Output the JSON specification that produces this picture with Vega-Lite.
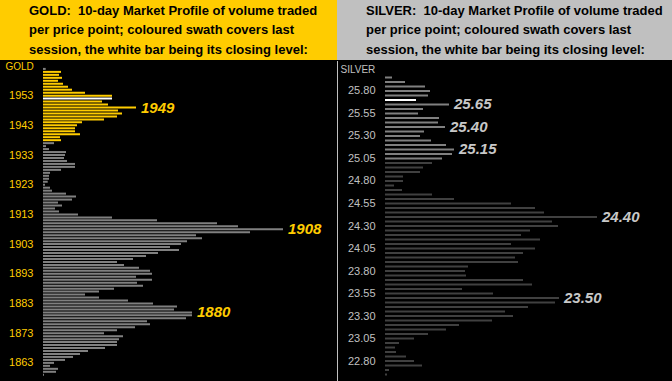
{
  "$schema": "https://vega.github.io/schema/vega-lite/v6.json",
  "background": "#000000",
  "padding": 0,
  "spacing": 0,
  "resolve": {"scale": {"color": "independent", "x": "independent", "y": "independent"}},
  "config": {
    "view": {"stroke": null},
    "concat": {"spacing": 0},
    "font": "Liberation Sans"
  },
  "hconcat": [
    {
      "spacing": 0,
      "resolve": {"scale": {"color": "independent", "x": "independent", "y": "independent"}},
      "vconcat": [
        {
          "width": 337,
          "height": 60,
          "view": {"fill": "#ffcc00", "stroke": null},
          "data": {"values": [
            {"line": 0, "t": "GOLD:\u00a0 10-day Market Profile of volume traded"},
            {"line": 1, "t": "per price point; coloured swath covers last"},
            {"line": 2, "t": "session, the white bar being its closing level:"}
          ]},
          "mark": {"type": "text", "align": "left", "baseline": "alphabetic", "font": "Liberation Sans", "fontWeight": "bold", "fontSize": 13, "color": "#000000"},
          "encoding": {
            "x": {"datum": 0, "type": "quantitative", "scale": {"domain": [-29, 308], "nice": false, "zero": false}, "axis": null},
            "y": {"field": "line", "type": "quantitative", "scale": {"domain": [-0.769, 2.308], "nice": false, "zero": false, "reverse": true}, "axis": null},
            "text": {"field": "t"}
          }
        },
        {
          "width": 337,
          "height": 321,
          "data": {"values": [
            {"year": 1962, "vol": 2.7, "session": "prior"},
            {"year": 1961, "vol": 18, "session": "last"},
            {"year": 1960, "vol": 16, "session": "last"},
            {"year": 1959, "vol": 19, "session": "last"},
            {"year": 1958, "vol": 15, "session": "last"},
            {"year": 1957, "vol": 20, "session": "last"},
            {"year": 1956, "vol": 25, "session": "last"},
            {"year": 1955, "vol": 29, "session": "last"},
            {"year": 1954, "vol": 42, "session": "last"},
            {"year": 1953, "vol": 69, "session": "last"},
            {"year": 1952, "vol": 69, "session": "close"},
            {"year": 1951, "vol": 59, "session": "last"},
            {"year": 1950, "vol": 65, "session": "last"},
            {"year": 1949, "vol": 93, "session": "last", "label": "1949"},
            {"year": 1948, "vol": 75, "session": "last"},
            {"year": 1947, "vol": 79, "session": "last"},
            {"year": 1946, "vol": 74, "session": "last"},
            {"year": 1945, "vol": 61, "session": "last"},
            {"year": 1944, "vol": 39, "session": "last"},
            {"year": 1943, "vol": 34, "session": "last"},
            {"year": 1942, "vol": 32, "session": "last"},
            {"year": 1941, "vol": 32, "session": "last"},
            {"year": 1940, "vol": 37, "session": "last"},
            {"year": 1939, "vol": 17, "session": "last"},
            {"year": 1938, "vol": 18, "session": "last"},
            {"year": 1937, "vol": 11, "session": "prior"},
            {"year": 1936, "vol": 3, "session": "prior"},
            {"year": 1935, "vol": 6, "session": "prior"},
            {"year": 1934, "vol": 23, "session": "prior"},
            {"year": 1933, "vol": 22, "session": "prior"},
            {"year": 1932, "vol": 21, "session": "prior"},
            {"year": 1931, "vol": 24, "session": "prior"},
            {"year": 1930, "vol": 32, "session": "prior"},
            {"year": 1929, "vol": 32, "session": "prior"},
            {"year": 1928, "vol": 18, "session": "prior"},
            {"year": 1927, "vol": 7, "session": "prior"},
            {"year": 1926, "vol": 6, "session": "prior"},
            {"year": 1925, "vol": 6, "session": "prior"},
            {"year": 1924, "vol": 4.7, "session": "prior"},
            {"year": 1923, "vol": 2, "session": "prior"},
            {"year": 1922, "vol": 7, "session": "prior"},
            {"year": 1921, "vol": 9, "session": "prior"},
            {"year": 1920, "vol": 23, "session": "prior"},
            {"year": 1919, "vol": 33, "session": "prior"},
            {"year": 1918, "vol": 29, "session": "prior"},
            {"year": 1917, "vol": 15, "session": "prior"},
            {"year": 1916, "vol": 19, "session": "prior"},
            {"year": 1915, "vol": 12, "session": "prior"},
            {"year": 1914, "vol": 16, "session": "prior"},
            {"year": 1913, "vol": 35, "session": "prior"},
            {"year": 1912, "vol": 69, "session": "prior"},
            {"year": 1911, "vol": 114, "session": "prior"},
            {"year": 1910, "vol": 174, "session": "prior"},
            {"year": 1909, "vol": 195, "session": "prior"},
            {"year": 1908, "vol": 240, "session": "prior", "label": "1908"},
            {"year": 1907, "vol": 207, "session": "prior"},
            {"year": 1906, "vol": 153, "session": "prior"},
            {"year": 1905, "vol": 159, "session": "prior"},
            {"year": 1904, "vol": 144, "session": "prior"},
            {"year": 1903, "vol": 138, "session": "prior"},
            {"year": 1902, "vol": 127, "session": "prior"},
            {"year": 1901, "vol": 136, "session": "prior"},
            {"year": 1900, "vol": 115, "session": "prior"},
            {"year": 1899, "vol": 103, "session": "prior"},
            {"year": 1898, "vol": 90, "session": "prior"},
            {"year": 1897, "vol": 74, "session": "prior"},
            {"year": 1896, "vol": 81, "session": "prior"},
            {"year": 1895, "vol": 96, "session": "prior"},
            {"year": 1894, "vol": 107, "session": "prior"},
            {"year": 1893, "vol": 109, "session": "prior"},
            {"year": 1892, "vol": 93, "session": "prior"},
            {"year": 1891, "vol": 109, "session": "prior"},
            {"year": 1890, "vol": 94, "session": "prior"},
            {"year": 1889, "vol": 100, "session": "prior"},
            {"year": 1888, "vol": 71, "session": "prior"},
            {"year": 1887, "vol": 56, "session": "prior"},
            {"year": 1886, "vol": 42, "session": "prior"},
            {"year": 1885, "vol": 56, "session": "prior"},
            {"year": 1884, "vol": 85, "session": "prior"},
            {"year": 1883, "vol": 110, "session": "prior"},
            {"year": 1882, "vol": 134, "session": "prior"},
            {"year": 1881, "vol": 131, "session": "prior"},
            {"year": 1880, "vol": 149, "session": "prior", "label": "1880"},
            {"year": 1879, "vol": 149, "session": "prior"},
            {"year": 1878, "vol": 143, "session": "prior"},
            {"year": 1877, "vol": 104, "session": "prior"},
            {"year": 1876, "vol": 107, "session": "prior"},
            {"year": 1875, "vol": 92, "session": "prior"},
            {"year": 1874, "vol": 74, "session": "prior"},
            {"year": 1873, "vol": 61, "session": "prior"},
            {"year": 1872, "vol": 80, "session": "prior"},
            {"year": 1871, "vol": 76, "session": "prior"},
            {"year": 1870, "vol": 74, "session": "prior"},
            {"year": 1869, "vol": 74, "session": "prior"},
            {"year": 1868, "vol": 62, "session": "prior"},
            {"year": 1867, "vol": 45, "session": "prior"},
            {"year": 1866, "vol": 37, "session": "prior"},
            {"year": 1865, "vol": 30, "session": "prior"},
            {"year": 1864, "vol": 22, "session": "prior"},
            {"year": 1863, "vol": 11, "session": "prior"},
            {"year": 1862, "vol": 7, "session": "prior"},
            {"year": 1861, "vol": 15, "session": "prior"},
            {"year": 1860, "vol": 13, "session": "prior"},
            {"year": 1859, "vol": 1, "session": "prior"}
          ]},
          "encoding": {
            "y": {
              "field": "year", "type": "quantitative",
              "scale": {"domain": [1856.9, 1965.0], "nice": false, "zero": false, "padding": 0},
              "axis": {
                "values": [1863, 1873, 1883, 1893, 1903, 1913, 1923, 1933, 1943, 1953],
                "format": "d",
                "offset": -43, "domain": false, "ticks": false, "grid": false,
                "labelPadding": 10, "labelColor": "#ffcc00", "labelFont": "Liberation Sans", "labelFontSize": 11,
                "title": "GOLD", "titleAngle": 0, "titleAlign": "left", "titleBaseline": "middle",
                "titleX": -38, "titleY": 6, "titleColor": "#ffcc00", "titleFont": "Liberation Sans",
                "titleFontSize": 10, "titleFontWeight": "normal"
              }
            },
            "x": {"field": "vol", "type": "quantitative", "stack": null, "scale": {"domain": [-43, 294], "nice": false, "zero": false, "padding": 0}, "axis": null}
          },
          "layer": [
            {
              "mark": {"type": "bar", "orient": "horizontal", "size": 2},
              "encoding": {
                "color": {"field": "session", "type": "nominal", "scale": {"domain": ["prior", "last", "close"], "range": ["#808080", "#ffcc00", "#ffffff"]}, "legend": null}
              }
            },
            {
              "transform": [{"filter": "isValid(datum.label)"}],
              "mark": {"type": "text", "align": "left", "baseline": "middle", "dx": 5, "font": "Liberation Sans", "fontStyle": "italic", "fontWeight": "bold", "fontSize": 15, "color": "#ffcc00"},
              "encoding": {"text": {"field": "label"}}
            }
          ]
        }
      ]
    },
    {
      "spacing": 0,
      "resolve": {"scale": {"color": "independent", "x": "independent", "y": "independent"}},
      "vconcat": [
        {
          "width": 335,
          "height": 60,
          "view": {"fill": "#c0c0c0", "stroke": null},
          "data": {"values": [
            {"line": 0, "t": "SILVER:\u00a0 10-day Market Profile of volume traded"},
            {"line": 1, "t": "per price point; coloured swath covers last"},
            {"line": 2, "t": "session, the white bar being its closing level:"}
          ]},
          "mark": {"type": "text", "align": "left", "baseline": "alphabetic", "font": "Liberation Sans", "fontWeight": "bold", "fontSize": 13, "color": "#000000"},
          "encoding": {
            "x": {"datum": 0, "type": "quantitative", "scale": {"domain": [-29, 306], "nice": false, "zero": false}, "axis": null},
            "y": {"field": "line", "type": "quantitative", "scale": {"domain": [-0.769, 2.308], "nice": false, "zero": false, "reverse": true}, "axis": null},
            "text": {"field": "t"}
          }
        },
        {
          "width": 335,
          "height": 321,
          "data": {"values": [
            {"price": 25.95, "vol": 7, "session": "last"},
            {"price": 25.90, "vol": 20, "session": "last"},
            {"price": 25.85, "vol": 40, "session": "last"},
            {"price": 25.80, "vol": 45, "session": "last"},
            {"price": 25.75, "vol": 43, "session": "last"},
            {"price": 25.70, "vol": 31, "session": "close"},
            {"price": 25.65, "vol": 64, "session": "last", "label": "25.65"},
            {"price": 25.60, "vol": 38, "session": "last"},
            {"price": 25.55, "vol": 33, "session": "last"},
            {"price": 25.50, "vol": 54, "session": "last"},
            {"price": 25.45, "vol": 53, "session": "last"},
            {"price": 25.40, "vol": 60, "session": "last", "label": "25.40"},
            {"price": 25.35, "vol": 39, "session": "last"},
            {"price": 25.30, "vol": 35, "session": "last"},
            {"price": 25.25, "vol": 46, "session": "last"},
            {"price": 25.20, "vol": 61, "session": "last"},
            {"price": 25.15, "vol": 69, "session": "last", "label": "25.15"},
            {"price": 25.10, "vol": 67, "session": "last"},
            {"price": 25.05, "vol": 57, "session": "last"},
            {"price": 25.00, "vol": 47, "session": "prior"},
            {"price": 24.95, "vol": 38, "session": "prior"},
            {"price": 24.90, "vol": 35, "session": "prior"},
            {"price": 24.85, "vol": 18, "session": "prior"},
            {"price": 24.80, "vol": 18, "session": "prior"},
            {"price": 24.75, "vol": 9, "session": "prior"},
            {"price": 24.70, "vol": 17, "session": "prior"},
            {"price": 24.65, "vol": 47, "session": "prior"},
            {"price": 24.60, "vol": 69, "session": "prior"},
            {"price": 24.55, "vol": 126, "session": "prior"},
            {"price": 24.50, "vol": 150, "session": "prior"},
            {"price": 24.45, "vol": 159, "session": "prior"},
            {"price": 24.40, "vol": 212, "session": "prior", "label": "24.40"},
            {"price": 24.35, "vol": 167, "session": "prior"},
            {"price": 24.30, "vol": 173, "session": "prior"},
            {"price": 24.25, "vol": 145, "session": "prior"},
            {"price": 24.20, "vol": 136, "session": "prior"},
            {"price": 24.15, "vol": 155, "session": "prior"},
            {"price": 24.10, "vol": 126, "session": "prior"},
            {"price": 24.05, "vol": 150, "session": "prior"},
            {"price": 24.00, "vol": 138, "session": "prior"},
            {"price": 23.95, "vol": 130, "session": "prior"},
            {"price": 23.90, "vol": 133, "session": "prior"},
            {"price": 23.85, "vol": 83, "session": "prior"},
            {"price": 23.80, "vol": 80, "session": "prior"},
            {"price": 23.75, "vol": 81, "session": "prior"},
            {"price": 23.70, "vol": 138, "session": "prior"},
            {"price": 23.65, "vol": 147, "session": "prior"},
            {"price": 23.60, "vol": 77, "session": "prior"},
            {"price": 23.55, "vol": 108, "session": "prior"},
            {"price": 23.50, "vol": 174, "session": "prior", "label": "23.50"},
            {"price": 23.45, "vol": 170, "session": "prior"},
            {"price": 23.40, "vol": 143, "session": "prior"},
            {"price": 23.35, "vol": 120, "session": "prior"},
            {"price": 23.30, "vol": 128, "session": "prior"},
            {"price": 23.25, "vol": 107, "session": "prior"},
            {"price": 23.20, "vol": 74, "session": "prior"},
            {"price": 23.15, "vol": 61, "session": "prior"},
            {"price": 23.10, "vol": 43, "session": "prior"},
            {"price": 23.05, "vol": 29, "session": "prior"},
            {"price": 23.00, "vol": 14, "session": "prior"},
            {"price": 22.95, "vol": 10, "session": "prior"},
            {"price": 22.90, "vol": 11, "session": "prior"},
            {"price": 22.85, "vol": 21, "session": "prior"},
            {"price": 22.80, "vol": 29, "session": "prior"},
            {"price": 22.75, "vol": 37, "session": "prior"},
            {"price": 22.70, "vol": 4, "session": "prior"},
            {"price": 22.65, "vol": 2, "session": "prior"}
          ]},
          "encoding": {
            "y": {
              "field": "price", "type": "quantitative",
              "scale": {"domain": [22.5667, 26.1333], "nice": false, "zero": false, "padding": 0},
              "axis": {
                "values": [22.80, 23.05, 23.30, 23.55, 23.80, 24.05, 24.30, 24.55, 24.80, 25.05, 25.30, 25.55, 25.80],
                "format": ".2f",
                "offset": -48, "domain": false, "ticks": false, "grid": false,
                "labelPadding": 10, "labelColor": "#c0c0c0", "labelFont": "Liberation Sans", "labelFontSize": 11,
                "title": "SILVER", "titleAngle": 0, "titleAlign": "left", "titleBaseline": "middle",
                "titleX": -45, "titleY": 8, "titleColor": "#c0c0c0", "titleFont": "Liberation Sans",
                "titleFontSize": 10, "titleFontWeight": "normal"
              }
            },
            "x": {"field": "vol", "type": "quantitative", "stack": null, "scale": {"domain": [-48, 287], "nice": false, "zero": false, "padding": 0}, "axis": null}
          },
          "layer": [
            {
              "mark": {"type": "rule", "color": "#c0c0c0", "strokeWidth": 1},
              "encoding": {"x": {"datum": -47.5, "type": "quantitative"}, "y": null}
            },
            {
              "mark": {"type": "bar", "orient": "horizontal", "size": 2},
              "encoding": {
                "color": {"field": "session", "type": "nominal", "scale": {"domain": ["prior", "last", "close"], "range": ["#404040", "#808080", "#ffffff"]}, "legend": null}
              }
            },
            {
              "transform": [{"filter": "isValid(datum.label)"}],
              "mark": {"type": "text", "align": "left", "baseline": "middle", "dx": 5, "font": "Liberation Sans", "fontStyle": "italic", "fontWeight": "bold", "fontSize": 15, "color": "#c8c8c8"},
              "encoding": {"text": {"field": "label"}}
            }
          ]
        }
      ]
    }
  ]
}
